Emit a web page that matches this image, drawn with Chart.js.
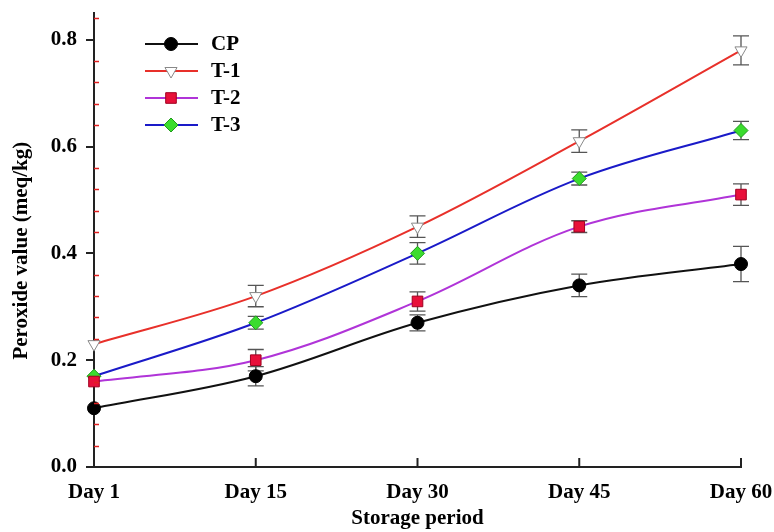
<!DOCTYPE html>
<html>
<head>
<meta charset="utf-8">
<script src="https://cdn.jsdelivr.net/npm/chart.js@4/dist/chart.umd.min.js"></script>
<style>
  html, body { margin: 0; padding: 0; background: #fff; }
  canvas { display: block; }
</style>
</head>
<body>
<canvas id="chart" width="774" height="532"></canvas>
<script>
const days = ["Day 1", "Day 15", "Day 30", "Day 45", "Day 60"]

const cp = [0.11, 0.17, 0.27, 0.34, 0.38]
const t1 = [0.23, 0.32, 0.45, 0.61, 0.78]
const t2 = [0.16, 0.20, 0.31, 0.45, 0.51]
const t3 = [0.17, 0.27, 0.40, 0.54, 0.63]

// standard deviations
const cpErr = [0, 0.018, 0.015, 0.021, 0.033]
const t1Err = [0, 0.020, 0.020, 0.021, 0.027]
const t2Err = [0, 0.020, 0.018, 0.011, 0.020]
const t3Err = [0, 0.012, 0.020, 0.012, 0.017]

const yTicks = [0, 0.2, 0.4, 0.6, 0.8]
const yMinorStep = 0.04
const yTitle = "Peroxide value (meq/kg)"

const SERIF = "'Liberation Serif', 'Times New Roman', serif"
const AXIS = "#222"

function series(label, data, err, line, point) {
  return {
    label,
    data,
    err,
    borderColor: line,
    borderWidth: 2,
    tension: 0.35,
    clip: false,
    pointStyle: point.style,
    pointRotation: point.rotation || 0,
    pointRadius: point.radius,
    pointBackgroundColor: point.fill,
    pointBorderColor: point.border,
    pointBorderWidth: 1
  }
}

const datasets = [
  series("CP", cp, cpErr, "#111", { style: "circle", radius: 6.5, fill: "#000", border: "#000" }),
  series("T-1", t1, t1Err, "#e8302a", { style: "triangle", rotation: 180, radius: 7, fill: "#fff", border: "#888" }),
  series("T-2", t2, t2Err, "#b034d8", { style: "rect", radius: 7.5, fill: "#e8103a", border: "#a00020" }),
  series("T-3", t3, t3Err, "#1a1ac8", { style: "rectRot", radius: 7, fill: "#3bdc2e", border: "#1f9a1a" })
]

const decorations = {
  id: "decorations",
  beforeDatasetsDraw(chart) {
    const { ctx } = chart
    const y = chart.scales.y
    ctx.save()
    ctx.strokeStyle = "#555"
    ctx.lineWidth = 1.3
    chart.data.datasets.forEach((ds, i) => {
      chart.getDatasetMeta(i).data.forEach((pt, j) => {
        const e = ds.err[j]
        if (!e) return
        const v = ds.data[j]
        const top = y.getPixelForValue(v + e)
        const bot = y.getPixelForValue(v - e)
        ctx.beginPath()
        ctx.moveTo(pt.x, top); ctx.lineTo(pt.x, bot)
        ctx.moveTo(pt.x - 8, top); ctx.lineTo(pt.x + 8, top)
        ctx.moveTo(pt.x - 8, bot); ctx.lineTo(pt.x + 8, bot)
        ctx.stroke()
      })
    })
    ctx.restore()
  },
  afterDraw(chart) {
    const { ctx, chartArea } = chart
    const x = chart.scales.x
    const y = chart.scales.y
    ctx.save()
    // minor ticks on the y axis, pointing inward
    ctx.strokeStyle = "#e02020"
    ctx.lineWidth = 1.5
    for (let k = 1; k * yMinorStep < y.max; k++) {
      const v = k * yMinorStep
      if (Math.abs(v / 0.2 - Math.round(v / 0.2)) < 1e-6) continue
      const py = Math.round(y.getPixelForValue(v)) + 0.5
      ctx.beginPath()
      ctx.moveTo(chartArea.left, py)
      ctx.lineTo(chartArea.left + 5, py)
      ctx.stroke()
    }
    // x ticks pointing up into the plot
    ctx.strokeStyle = AXIS
    ctx.lineWidth = 2
    x.ticks.forEach((t, i) => {
      if (i === 0) return
      const px = x.getPixelForTick(i)
      ctx.beginPath()
      ctx.moveTo(px, chartArea.bottom)
      ctx.lineTo(px, chartArea.bottom - 9)
      ctx.stroke()
    })
    // y axis title, sits a little below the middle of the axis
    ctx.save()
    ctx.translate(22, y.getPixelForValue(0.405))
    ctx.rotate(-Math.PI / 2)
    ctx.font = "bold 21px " + SERIF
    ctx.fillStyle = "#000"
    ctx.textAlign = "center"
    ctx.textBaseline = "middle"
    ctx.fillText(yTitle, 0, 0)
    ctx.restore()
    // legend: line with marker in the middle
    const lx = chartArea.left + 51
    const ly = chartArea.top + 31
    ctx.font = "bold 21px " + SERIF
    ctx.textBaseline = "middle"
    chart.data.datasets.forEach((ds, i) => {
      const cy = ly + i * 27
      ctx.strokeStyle = ds.borderColor
      ctx.lineWidth = 2
      ctx.beginPath()
      ctx.moveTo(lx, cy)
      ctx.lineTo(lx + 53, cy)
      ctx.stroke()
      ctx.fillStyle = ds.pointBackgroundColor
      ctx.strokeStyle = ds.pointBorderColor
      ctx.lineWidth = 1
      Chart.helpers.drawPoint(ctx, {
        pointStyle: ds.pointStyle,
        rotation: ds.pointRotation,
        radius: ds.pointRadius,
        borderWidth: 1
      }, lx + 26, cy)
      ctx.fillStyle = "#000"
      ctx.fillText(ds.label, lx + 66, cy + 1)
    })
    ctx.restore()
  }
}

new Chart(document.getElementById("chart"), {
  type: "line",
  data: { labels: days, datasets },
  plugins: [decorations],
  options: {
    responsive: false,
    animation: false,
    layout: { padding: { top: 13, right: 33, left: 0, bottom: 0 } },
    plugins: {
      legend: { display: false },
      tooltip: { enabled: false }
    },
    scales: {
      x: {
        type: "category",
        offset: false,
        afterFit: (s) => {
          s.height = 65
          s.paddingLeft = 0
          s.paddingRight = 0
        },
        grid: { drawOnChartArea: false, drawTicks: false },
        border: { display: true, color: AXIS, width: 2 },
        ticks: {
          padding: 13,
          maxRotation: 0,
          color: "#000",
          font: { family: SERIF, size: 21, weight: "bold" }
        },
        title: {
          display: true,
          text: "Storage period",
          color: "#000",
          padding: { bottom: 1 },
          font: { family: SERIF, size: 21, weight: "bold" }
        }
      },
      y: {
        min: 0,
        max: 0.85,
        afterFit: (s) => {
          s.width = 94
          s.paddingTop = 0
          s.paddingBottom = 0
        },
        afterBuildTicks: (s) => { s.ticks = yTicks.map((v) => ({ value: v })) },
        grid: { drawOnChartArea: false, drawTicks: true, tickLength: 8, color: AXIS, lineWidth: 2 },
        border: { display: true, color: AXIS, width: 2 },
        ticks: {
          padding: 9,
          color: "#000",
          font: { family: SERIF, size: 21, weight: "bold" },
          callback: (v) => v.toFixed(1)
        },
        title: { display: false }
      }
    }
  }
})
</script>
</body>
</html>
